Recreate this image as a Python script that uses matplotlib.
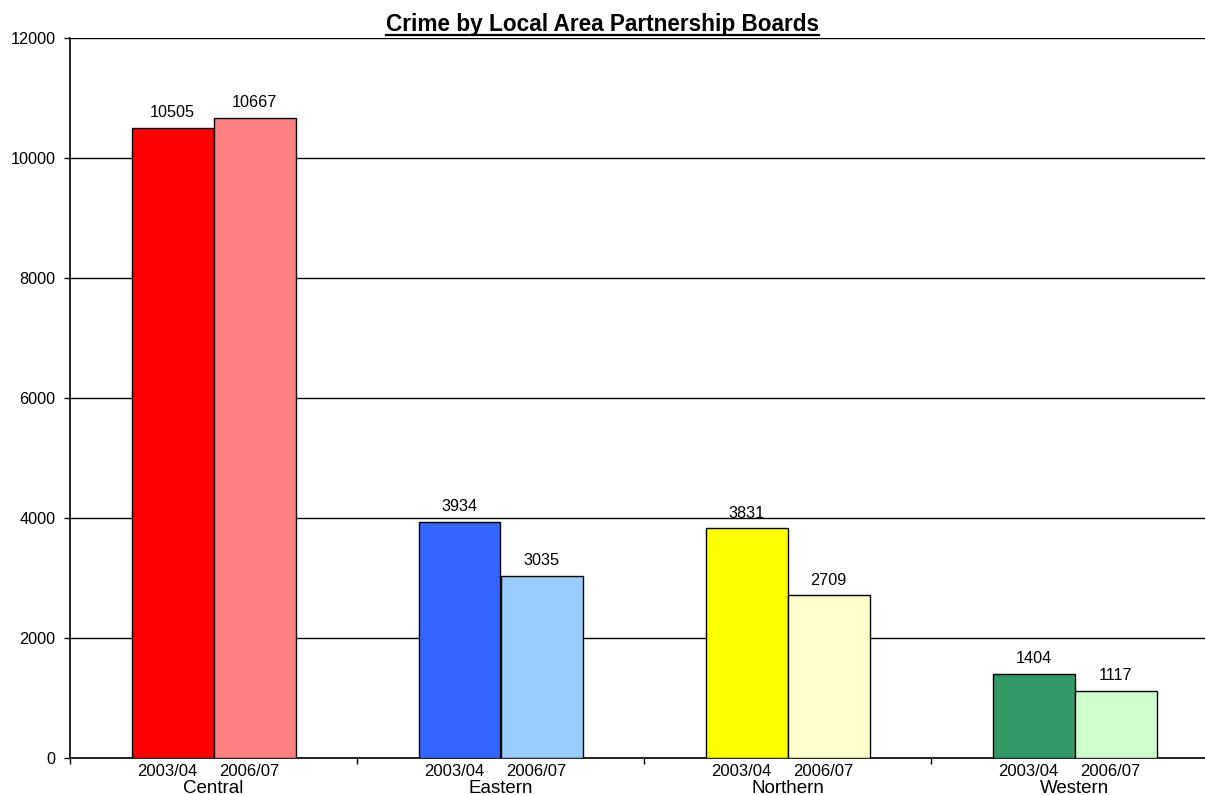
import matplotlib
matplotlib.use("Agg")
import matplotlib.pyplot as plt
from matplotlib.lines import Line2D
import numpy as np

# ---- data ----
title = "Crime by Local Area Partnership Boards"
areas = ["Central", "Eastern", "Northern", "Western"]
periods = ["2003/04", "2006/07"]
values_2003 = [10505, 3934, 3831, 1404]
values_2006 = [10667, 3035, 2709, 1117]
y_ticks = [0, 2000, 4000, 6000, 8000, 10000, 12000]

# ---- style ----
colors_2003 = ["#FF0000", "#3366FF", "#FFFF00", "#339966"]
colors_2006 = ["#FF8080", "#99CCFF", "#FFFFCC", "#CCFFCC"]

plt.rcParams['font.family'] = ['Liberation Sans', 'DejaVu Sans']

W, H, DPI = 1205, 795, 100
fig = plt.figure(figsize=(W / DPI, H / DPI), dpi=DPI)
px_left, px_right, px_top, px_bottom = 70, 1218, 38, 758
ax = fig.add_axes([px_left / W, (H - px_bottom) / H,
                   (px_right - px_left) / W, (px_bottom - px_top) / H])

x = np.arange(len(areas))
bw = 2 / 7
ax.bar(x - bw / 2, values_2003, width=bw, color=colors_2003,
       edgecolor="black", linewidth=1, zorder=3)
ax.bar(x + bw / 2, values_2006, width=bw, color=colors_2006,
       edgecolor="black", linewidth=1, zorder=3)

fs = 11.7
for xi, v in zip(x - bw / 2, values_2003):
    ax.annotate(str(v), (xi, v), xytext=(0, 5.5), textcoords="offset points",
                ha="center", va="bottom", fontsize=fs)
for xi, v in zip(x + bw / 2, values_2006):
    ax.annotate(str(v), (xi, v), xytext=(0, 5.5), textcoords="offset points",
                ha="center", va="bottom", fontsize=fs)

ax.set_xlim(-0.5, len(areas) - 0.5)
ax.set_ylim(0, 12000)
ax.set_yticks(y_ticks)
ax.set_yticklabels([str(t) for t in y_ticks], fontsize=fs)
ax.yaxis.grid(True, color="black", linewidth=1, zorder=0)
ax.set_axisbelow(True)

ax.set_xticks(np.arange(len(areas) + 1) - 0.5)
ax.set_xticklabels([])
ax.tick_params(axis="x", direction="out", length=4, width=1, color="black")
ax.tick_params(axis="y", direction="out", length=4, width=1, color="black", pad=6.5)

for s in ["top", "right"]:
    ax.spines[s].set_visible(False)
for s in ["left", "bottom"]:
    ax.spines[s].set_linewidth(1.2)
    ax.spines[s].set_color("black")

trans = ax.get_xaxis_transform()
for i, area in enumerate(areas):
    for off, p in zip([-bw / 2, bw / 2], periods):
        ax.annotate(p, (i + off, 0), xycoords=trans, xytext=(-3.6, -4.5),
                    textcoords="offset points", ha="center", va="top",
                    fontsize=12)
    ax.annotate(area, (i, 0), xycoords=trans, xytext=(0, -15.5),
                textcoords="offset points", ha="center", va="top",
                fontsize=13.5)

t = fig.text(0.5, 1 - 31 / H, title, ha="center", va="baseline",
             fontsize=16.3, fontweight="bold")
fig.canvas.draw()
bb = t.get_window_extent(fig.canvas.get_renderer())
uy = 1 - 34.5 / H
fig.add_artist(Line2D([bb.x0 / W, bb.x1 / W], [uy, uy], color="black",
                      linewidth=1.6, transform=fig.transFigure))

fig.savefig("out.png", dpi=DPI)
